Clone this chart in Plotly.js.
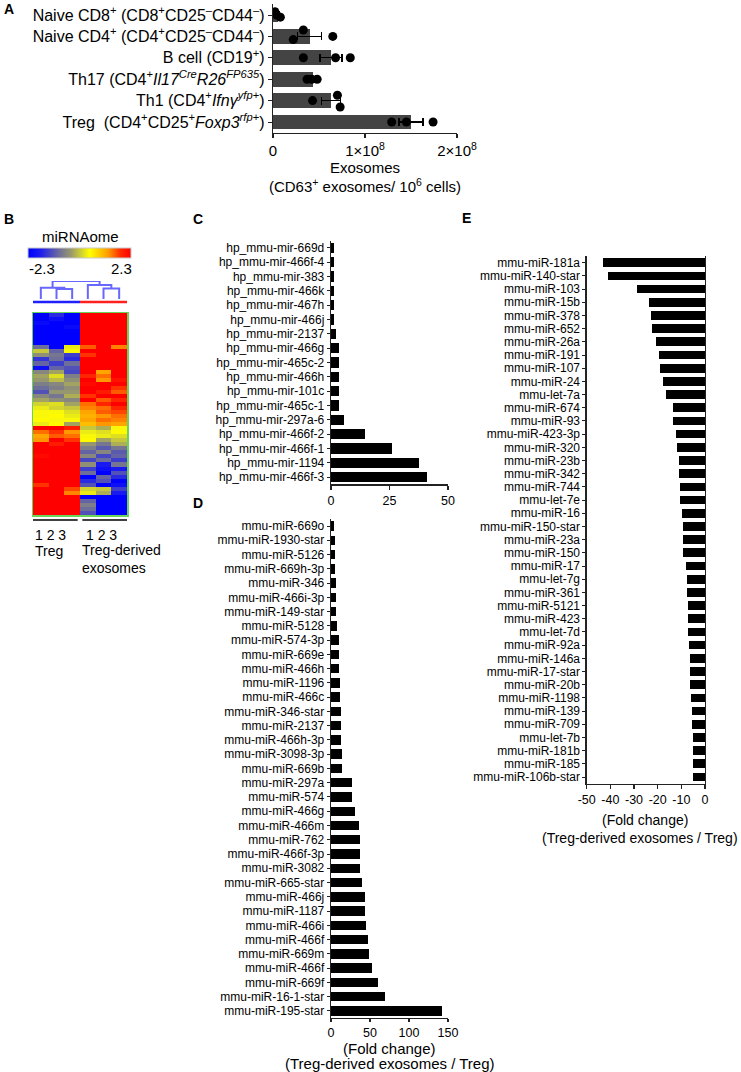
<!DOCTYPE html>
<html>
<head>
<meta charset="utf-8">
<script src="https://cdn.plot.ly/plotly-3.0.1.min.js"></script>
<style>
  body { margin: 0; background: #fff; }
  #fig { width: 741px; height: 1072px; }
</style>
</head>
<body>
<div id="fig"></div>
<script>
// ---- panel A: exosome counts per cell type ----
var cellLabels = [
  'Naive CD8<sup>+</sup> (CD8<sup>+</sup>CD25<sup>–</sup>CD44<sup>–</sup>)',
  'Naive CD4<sup>+</sup> (CD4<sup>+</sup>CD25<sup>–</sup>CD44<sup>–</sup>)',
  'B cell (CD19<sup>+</sup>)',
  'Th17 (CD4<sup>+</sup><i>Il17</i><sup><i>Cre</i></sup><i>R26</i><sup><i>FP635</i></sup>)',
  'Th1 (CD4<sup>+</sup><i>Ifnγ</i><sup><i>yfp</i>+</sup>)',
  'Treg\u00a0 (CD4<sup>+</sup>CD25<sup>+</sup><i>Foxp3</i><sup><i>rfp</i>+</sup>)'
];
var exoMean = [0.05e8, 0.40e8, 0.63e8, 0.43e8, 0.63e8, 1.50e8];
var exoSem = [0.015e8, 0.13e8, 0.12e8, 0.03e8, 0.10e8, 0.13e8];
var exoDots = [
  [0.02e8, 0.04e8, 0.08e8],
  [0.33e8, 0.22e8, 0.65e8],
  [0.33e8, 0.68e8, 0.84e8],
  [0.37e8, 0.42e8, 0.48e8],
  [0.43e8, 0.70e8, 0.73e8],
  [1.29e8, 1.45e8, 1.74e8]
];
var exoTicks = [0, 1e8, 2e8];
var exoTickText = ['0', '1×10<sup>8</sup>', '2×10<sup>8</sup>'];

// ---- panel B: miRNAome heatmap (3 Treg, 3 Treg-derived exosome samples) ----
var treg1 = [-2.3,-2.3,-2.1,-2.3,-2.3,-2.3,-2.3,-2.3,-0.9,0.0, -0.5,-1.5,-1.0,-2.0,-0.6,-0.3,-0.4,-0.7,-0.9,-1.2, -0.6,-0.3,0.1,0.3,0.4,0.4,0.5,0.3,2.3,1.5, 1.2,1.3,2.3,2.3,2.3,2.2,2.3,2.3,2.3,2.3, 2.3,2.3,1.8,2.3,2.3,2.3,2.3,2.3,2.3,2.3];
var treg2 = [-1.6,-2.0,-2.3,-2.3,-2.3,-2.3,-2.3,-2.3,-2.3,-1.0, -0.8,-0.9,-1.4,-1.0,-0.3,0.2,-0.1,-0.6,-0.7,-0.4, -0.8,-0.5,0.2,0.1,0.4,0.5,0.4,0.5,2.3,1.8, 1.6,2.3,2.0,2.3,2.3,2.3,2.3,2.3,2.3,2.3, 2.3,2.3,2.3,2.3,2.3,2.3,2.3,2.3,2.3,2.3];
var treg3 = [-2.3,-2.3,-2.3,-2.1,-2.3,-2.3,-2.3,-2.3,0.3,0.4, -1.4,-1.6,-0.9,-1.2,-1.3,-0.7,-0.5,-0.3,-0.5,-0.4, -0.2,-0.6,-0.3,0.0,0.2,0.3,0.4,-0.3,2.0,1.3, 1.5,1.8,2.3,2.3,2.3,2.3,2.3,2.3,2.3,2.3, 2.3,2.3,2.3,1.7,1.4,2.3,2.3,2.3,2.3,2.3];
var exo1 = [2.3,2.3,2.3,2.3,2.3,2.3,2.3,2.3,1.6,2.3, 1.8,2.3,2.3,2.3,2.3,1.9,2.3,2.2,2.3,2.3, 1.8,2.3,1.5,1.4,1.2,1.1,1.2,1.0,0.0,0.3, 0.4,0.5,-0.4,-0.7,-1.0,-0.6,-1.3,-0.5,-1.4,-0.9, -2.3,-1.6,-1.2,0.1,0.3,-2.3,-1.0,-0.7,-0.9,-1.2];
var exo2 = [2.3,2.3,2.3,2.3,2.3,2.3,2.3,2.3,2.3,2.3, 2.3,2.3,2.3,2.3,1.2,1.5,1.3,2.3,2.3,2.0, 2.3,1.6,1.9,1.5,1.6,1.3,1.5,1.3,-0.2,0.2, 0.3,-0.3,-0.8,-1.1,-0.6,-1.3,-0.9,-1.8,-2.0,-2.3, -1.0,-1.2,-2.3,0.0,-0.2,-2.3,-2.3,-2.3,-2.3,-2.3];
var exo3 = [2.3,2.3,2.3,2.3,2.3,2.3,2.3,2.3,1.4,2.3, 2.3,2.3,2.3,2.3,2.3,2.3,2.1,2.3,1.8,1.6, 2.3,1.9,2.3,1.9,1.7,1.5,1.4,1.2,0.4,0.5, 0.2,0.0,-0.2,-0.8,-1.1,-1.0,-1.4,-0.8,-1.8,-1.2, -1.6,-2.3,-2.0,-1.4,-1.8,-2.3,-2.3,-2.3,-2.3,-2.3];
// sample clustering: [left node, right node, height]; leaves are 0..5
var dendroLinks = [[1, 2, 0.55], [0, 6, 0.62], [4, 5, 0.58], [3, 8, 0.78], [7, 9, 1.0]];

// ---- panel C: hairpin precursors enriched in exosomes ----
var cLabels = ['hp_mmu-mir-669d','hp_mmu-mir-466f-4','hp_mmu-mir-383','hp_mmu-mir-466k','hp_mmu-mir-467h',
  'hp_mmu-mir-466j','hp_mmu-mir-2137','hp_mmu-mir-466g','hp_mmu-mir-465c-2','hp_mmu-mir-466h',
  'hp_mmu-mir-101c','hp_mmu-mir-465c-1','hp_mmu-mir-297a-6','hp_mmu-mir-466f-2','hp_mmu-mir-466f-1',
  'hp_mmu-mir-1194','hp_mmu-mir-466f-3'];
var cFold = [1.4,1.4,1.2,1.4,1.4,1.3,2.1,3.3,3.3,3.3,3.3,3.4,5.4,14.6,26.2,37.4,41.1];

// ---- panel D: mature miRNAs enriched in exosomes ----
var dLabels = ['mmu-miR-669o','mmu-miR-1930-star','mmu-miR-5126','mmu-miR-669h-3p','mmu-miR-346',
  'mmu-miR-466i-3p','mmu-miR-149-star','mmu-miR-5128','mmu-miR-574-3p','mmu-miR-669e',
  'mmu-miR-466h','mmu-miR-1196','mmu-miR-466c','mmu-miR-346-star','mmu-miR-2137',
  'mmu-miR-466h-3p','mmu-miR-3098-3p','mmu-miR-669b','mmu-miR-297a','mmu-miR-574',
  'mmu-miR-466g','mmu-miR-466m','mmu-miR-762','mmu-miR-466f-3p','mmu-miR-3082',
  'mmu-miR-665-star','mmu-miR-466j','mmu-miR-1187','mmu-miR-466i','mmu-miR-466f',
  'mmu-miR-669m','mmu-miR-466f','mmu-miR-669f','mmu-miR-16-1-star','mmu-miR-195-star'];
var dFold = [4.2,4.7,5.1,5.5,6.0,6.4,6.8,7.2,9.8,10.2, 10.6,11.5,11.5,12.3,12.7,13.2,13.6,13.6,26.3,26.8,
  31.0,36.1,37.0,37.4,37.8,39.1,43.8,44.2,45.5,47.6, 48.9,52.7,60.8,69.7,142.4];

// ---- panel E: miRNAs depleted in exosomes ----
var eLabels = ['mmu-miR-181a','mmu-miR-140-star','mmu-miR-103','mmu-miR-15b','mmu-miR-378',
  'mmu-miR-652','mmu-miR-26a','mmu-miR-191','mmu-miR-107','mmu-miR-24',
  'mmu-let-7a','mmu-miR-674','mmu-miR-93','mmu-miR-423-3p','mmu-miR-320',
  'mmu-miR-23b','mmu-miR-342','mmu-miR-744','mmu-let-7e','mmu-miR-16',
  'mmu-miR-150-star','mmu-miR-23a','mmu-miR-150','mmu-miR-17','mmu-let-7g',
  'mmu-miR-361','mmu-miR-5121','mmu-miR-423','mmu-let-7d','mmu-miR-92a',
  'mmu-miR-146a','mmu-miR-17-star','mmu-miR-20b','mmu-miR-1198','mmu-miR-139',
  'mmu-miR-709','mmu-let-7b','mmu-miR-181b','mmu-miR-185','mmu-miR-106b-star'];
var eFold = [-43.0,-41.0,-28.6,-23.8,-23.0,-22.4,-20.7,-19.4,-19.2,-17.9,
  -16.3,-13.5,-13.4,-12.4,-11.8,-11.1,-11.0,-10.7,-10.6,-9.6,
  -9.4,-9.3,-9.2,-8.0,-7.7,-7.5,-7.2,-7.2,-7.0,-6.6,
  -6.5,-6.5,-6.2,-5.8,-5.4,-5.4,-5.2,-5.2,-5.1,-5.1];
var eTicks = [-50, -40, -30, -20, -10, 0];
var eTickText = ['-50', '-40', '-30', '-20', '-10', '0'];

var foldTitle1 = '(Fold change)';
var foldTitle2 = '(Treg-derived exosomes / Treg)';

// ---------------------------------------------------------------
var W = 741, H = 1072;
var FONT = 'Liberation Sans, Arial, sans-serif';
var AX = '#222';

function hx(a, b) { return [a / W, b / W]; }          // pixel span -> paper x domain
function vy(top, bottom) { return [1 - bottom / H, 1 - top / H]; }  // pixel span -> paper y domain
function idx(arr) { return arr.map(function (d, i) { return i; }); }
function fnt(s) { return { size: s, family: FONT, color: '#000' }; }

// little vertical spread of the dots in panel A (Prism style scatter)
var dotShift = [[-0.15, 0.0, 0.1], [-0.3, 0.15, 0], [0, 0, 0], [0, 0, 0], [0, -0.25, 0.3], [0, 0, 0]];

var dotX = [], dotY = [];
for (var i = 0; i < exoDots.length; i++) {
  for (var j = 0; j < exoDots[i].length; j++) {
    dotX.push(exoDots[i][j]);
    dotY.push(i + dotShift[i][j]);
  }
}

var traceA = {
  type: 'bar', orientation: 'h', x: exoMean, y: idx(exoMean), width: 0.7,
  marker: { color: '#444444' },
  error_x: { type: 'data', array: exoSem, visible: true, color: '#000', thickness: 1.3, width: 4 },
  xaxis: 'x', yaxis: 'y', hoverinfo: 'x'
};
var traceADots = {
  type: 'scatter', mode: 'markers', x: dotX, y: dotY,
  marker: { color: '#000', size: 9 },
  xaxis: 'x', yaxis: 'y', hoverinfo: 'x'
};

// heatmap matrix rows = miRNAs, columns = samples
var heatZ = [];
for (var r = 0; r < treg1.length; r++) {
  heatZ.push([treg1[r], treg2[r], treg3[r], exo1[r], exo2[r], exo3[r]]);
}
var traceB = {
  type: 'heatmap', z: heatZ, x: [0, 1, 2, 3, 4, 5], y: idx(treg1),
  zmin: -2.3, zmax: 2.3,
  colorscale: [[0, '#0000ff'], [0.12, '#1c1cf0'], [0.3, '#6c6c9c'], [0.42, '#9a9a6c'],
               [0.6, '#ffff00'], [0.78, '#ff9a00'], [0.9, '#ff2a00'], [1, '#ff0000']],
  colorbar: {
    orientation: 'h', x: 79.5 / W, xanchor: 'center', y: 1 - 248 / H, yanchor: 'top',
    xpad: 0, ypad: 0,
    len: 103, lenmode: 'pixels', thickness: 10, thicknessmode: 'pixels',
    showticklabels: false, ticks: '', outlinewidth: 1, outlinecolor: '#c8c8c8'
  },
  xaxis: 'x5', yaxis: 'y5', hoverinfo: 'z'
};

// dendrogram from the linkage list
var nodeX = [0, 1, 2, 3, 4, 5], nodeH = [0, 0, 0, 0, 0, 0];
var dx = [], dy = [];
dendroLinks.forEach(function (l) {
  var a = l[0], b = l[1], h = l[2];
  dx.push(nodeX[a], nodeX[a], nodeX[b], nodeX[b], null);
  dy.push(nodeH[a], h, h, nodeH[b], null);
  nodeX.push((nodeX[a] + nodeX[b]) / 2);
  nodeH.push(h);
});
var traceDendro = {
  type: 'scatter', mode: 'lines', x: dx, y: dy,
  line: { color: '#6868ff', width: 2 }, xaxis: 'x6', yaxis: 'y6', hoverinfo: 'skip'
};

function foldBars(vals, ax, ay, w) {
  return {
    type: 'bar', orientation: 'h', x: vals, y: idx(vals), width: w,
    marker: { color: '#000' }, xaxis: ax, yaxis: ay, hoverinfo: 'x'
  };
}
var traceC = foldBars(cFold, 'x2', 'y2', 0.72);
var traceD = foldBars(dFold, 'x3', 'y3', 0.66);
var traceE = foldBars(eFold, 'x4', 'y4', 0.66);

function xAx(domain, anchor, range, tickvals, extra) {
  var a = {
    domain: domain, anchor: anchor, range: range, tickvals: tickvals, tickangle: 0,
    showline: true, linecolor: AX, linewidth: 1.3, ticks: 'outside', ticklen: 4, tickcolor: AX,
    tickwidth: 1.3, showgrid: false, zeroline: false, tickfont: fnt(12.5)
  };
  for (var k in extra) a[k] = extra[k];
  return a;
}
function yAx(domain, anchor, labels, extra) {
  var a = {
    domain: domain, anchor: anchor, range: [labels.length - 0.5, -0.5],
    tickvals: idx(labels), ticktext: labels,
    showline: true, linecolor: AX, linewidth: 1.3, ticks: 'outside', ticklen: 3, tickcolor: AX,
    tickwidth: 1, showgrid: false, zeroline: false, tickfont: fnt(12)
  };
  for (var k in extra) a[k] = extra[k];
  return a;
}

var layout = {
  width: W, height: H, autosize: false,
  margin: { l: 0, r: 0, t: 0, b: 0 },
  paper_bgcolor: '#fff', plot_bgcolor: 'rgba(0,0,0,0)',
  showlegend: false,
  font: { family: FONT, color: '#000' },
  bargap: 0,

  // A
  xaxis: xAx(hx(273, 457), 'y', [0, 2e8], exoTicks, {
    ticktext: exoTickText, tickfont: fnt(15),
    title: { text: 'Exosomes<br>(CD63<sup>+</sup> exosomes/ 10<sup>6</sup> cells)', font: fnt(15), standoff: 1 }
  }),
  yaxis: yAx(vy(4.3, 132.7), 'x', cellLabels, { ticklen: 4, tickfont: fnt(16) }),

  // C
  xaxis2: xAx(hx(331, 448), 'y2', [0, 50], [0, 25, 50], {}),
  yaxis2: yAx(vy(240.8, 484.2), 'x2', cLabels, {}),

  // D
  xaxis3: xAx(hx(331, 448), 'y3', [0, 150], [0, 50, 100, 150], { ticklen: 3 }),
  yaxis3: yAx(vy(518.9, 1018), 'x3', dLabels, {}),

  // E
  xaxis4: xAx(hx(586.7, 705), 'y4', [-50, 0], eTicks, { ticktext: eTickText, tickfont: fnt(12.5) }),
  yaxis4: yAx(vy(256.1, 783.6), 'x4', eLabels, { mirror: true }),

  // B heatmap + dendrogram
  xaxis5: { domain: hx(33, 127), anchor: 'y5', range: [-0.5, 5.5], showticklabels: false, ticks: '',
            showgrid: false, zeroline: false, showline: true, mirror: true, linecolor: '#6ad35a', linewidth: 1.5 },
  yaxis5: { domain: vy(313, 515), anchor: 'x5', range: [treg1.length - 0.5, -0.5], showticklabels: false,
            ticks: '', showgrid: false, zeroline: false, showline: true, mirror: true, linecolor: '#6ad35a', linewidth: 1.5 },
  xaxis6: { domain: hx(33, 127), anchor: 'y6', range: [-0.5, 5.5], visible: false },
  yaxis6: { domain: vy(281, 299), anchor: 'x6', range: [0, 1], visible: false },

  shapes: [
    // group bars under the dendrogram
    { type: 'line', xref: 'x5', yref: 'paper', x0: -0.5, x1: 2.5, y0: 1 - 302 / H, y1: 1 - 302 / H, line: { color: '#2020ff', width: 2.5 } },
    { type: 'line', xref: 'x5', yref: 'paper', x0: 2.5, x1: 5.5, y0: 1 - 302 / H, y1: 1 - 302 / H, line: { color: '#ff2020', width: 2.5 } },
    // sample group underlines
    { type: 'line', xref: 'x5', yref: 'paper', x0: -0.5, x1: 2.35, y0: 1 - 520 / H, y1: 1 - 520 / H, line: { color: '#000', width: 1.3 } },
    { type: 'line', xref: 'x5', yref: 'paper', x0: 2.65, x1: 5.5, y0: 1 - 520 / H, y1: 1 - 520 / H, line: { color: '#000', width: 1.3 } }
  ],

  annotations: []
};

function note(text, x, y, opts) {
  var a = { text: text, xref: 'paper', yref: 'paper', x: x / W, y: 1 - y / H, showarrow: false,
            xanchor: 'left', yanchor: 'middle', font: fnt(14) };
  for (var k in opts) a[k] = opts[k];
  layout.annotations.push(a);
}
// panel letters
note('<b>A</b>', 2, 9, {});
note('<b>B</b>', 2, 219, {});
note('<b>C</b>', 191, 219, {});
note('<b>D</b>', 191, 503, {});
note('<b>E</b>', 460, 218, {});
// colour key title and ends
note('miRNAome', 80, 236, { xanchor: 'center', font: fnt(15) });
note('-2.3', 27, 268, { font: fnt(15) });
note('2.3', 134, 268, { xanchor: 'right', font: fnt(15) });
// heatmap sample labels
note('1 2 3', 33, 535, { font: fnt(14) });
note('1 2 3', 84, 535, { font: fnt(14) });
note('Treg', 33, 551, { font: fnt(14) });
note('Treg-derived<br>exosomes', 80, 559, { font: fnt(14), align: 'left' });
// fold change axis titles (D and E)
note(foldTitle1, 389.5, 1048, { xanchor: 'center', font: fnt(15) });
note(foldTitle2, 389.5, 1063, { xanchor: 'center', font: fnt(15) });
note(foldTitle1, 645, 820, { xanchor: 'center', font: fnt(14) });
note(foldTitle2, 640, 838, { xanchor: 'center', font: fnt(14) });

Plotly.newPlot('fig', [traceA, traceADots, traceB, traceDendro, traceC, traceD, traceE], layout,
  { staticPlot: true });
</script>
</body>
</html>
